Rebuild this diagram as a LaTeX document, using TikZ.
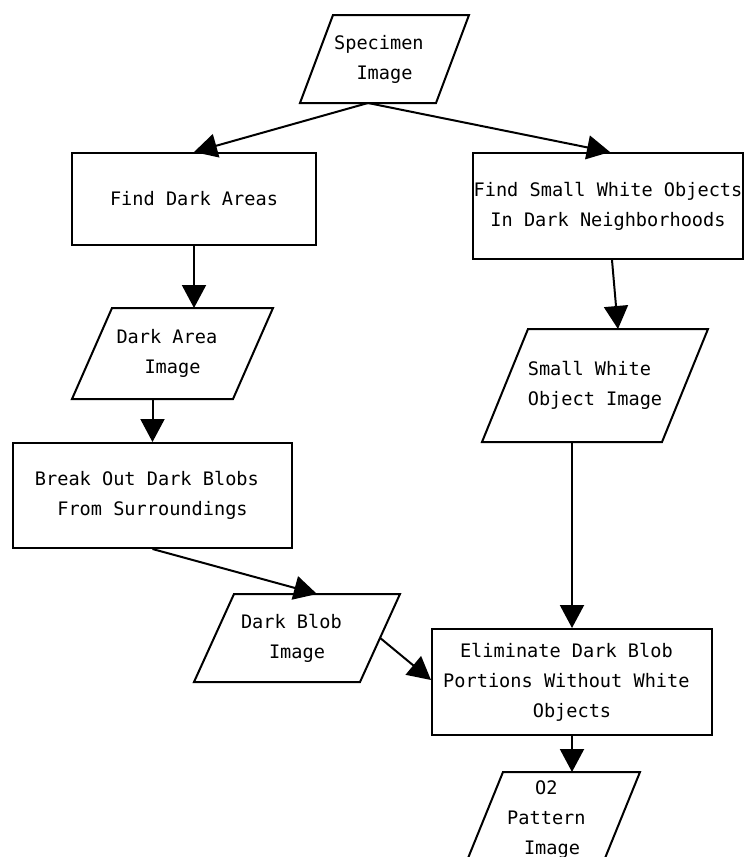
\documentclass[tikz,border=0pt]{standalone}
\usepackage{fontspec}
\newfontfamily\dvmono{DejaVu Sans Mono}
\usetikzlibrary{arrows.meta,calc}
\tikzset{
  lbl/.style={font=\dvmono\fontsize{18.6}{30}\selectfont, align=center, inner sep=0pt},
  procbox/.style={lbl, draw, line width=2pt},
  ioline/.style={draw, line width=2pt},
  flow/.style={line width=2pt, -{Triangle[length=23pt,width=24pt]}},
}
% name, top-left x, top y, top width, height, slant, text
\newcommand{\iobox}[7]{%
  \node[lbl, minimum width=#4pt, minimum height=#5pt] (#1) at ({#2+#4/2-#6/2},{#3+#5/2}) {#7};
  \draw[ioline] (#2,#3) -- ++(#4,0) -- ++(-#6,#5) -- ++(-#4,0) -- cycle;
  \coordinate (#1-top) at ({#2+#4/2},#3);
  \coordinate (#1-bot) at ({#2+#4/2-#6},{#3+#5});
}
\begin{document}
\begin{tikzpicture}[x=1pt,y=-1pt]
\useasboundingbox (0,0) rectangle (752,857);

\iobox{spec}{333}{15}{136}{88}{33}{Specimen\phantom{x}\\Image}
\node[procbox, minimum width=244pt, minimum height=92pt] (fda) at (194,199) {Find Dark Areas};
\node[procbox, minimum width=270pt, minimum height=106pt] (fsw) at (608,206) {Find Small White Objects\\In Dark Neighborhoods};
\iobox{dai}{112}{308}{161}{91}{40}{Dark Area\phantom{x}\\Image}
\iobox{swo}{528}{329}{180}{113}{46}{Small White\phantom{x}\\Object Image}
\node[procbox, minimum width=279pt, minimum height=105pt] (bo) at (152.5,495.5) {Break Out Dark Blobs\phantom{x}\\From Surroundings};
\iobox{db}{234}{594}{166}{88}{40}{Dark Blob\phantom{x}\\Image}
\node[procbox, minimum width=280pt, minimum height=106pt] (elim) at (572,682) {Eliminate Dark Blob\phantom{x}\\Portions Without White\phantom{x}\\Objects};
\iobox{o2}{503}{772}{137}{96}{39}{O2\phantom{x}\\Pattern\phantom{x}\\Image}

\draw[flow] (spec-bot) -- (fda.north);
\draw[flow] (spec-bot) -- ([xshift=2pt]fsw.north);
\draw[flow] (fda.south) -- (fda.south |- dai-top);
\draw[flow] ([xshift=4pt]fsw.south) -- (swo-top);
\draw[flow] (dai-bot) -- (dai-bot |- bo.north);
\draw[flow] (bo.south) -- (db-top);
\draw[flow] (swo-bot) -- (swo-bot |- elim.north);
\draw[flow] (db.east) -- ([yshift=2pt]elim.west);
\draw[flow] (elim.south) -- (elim.south |- o2-top);
\end{tikzpicture}
\end{document}
